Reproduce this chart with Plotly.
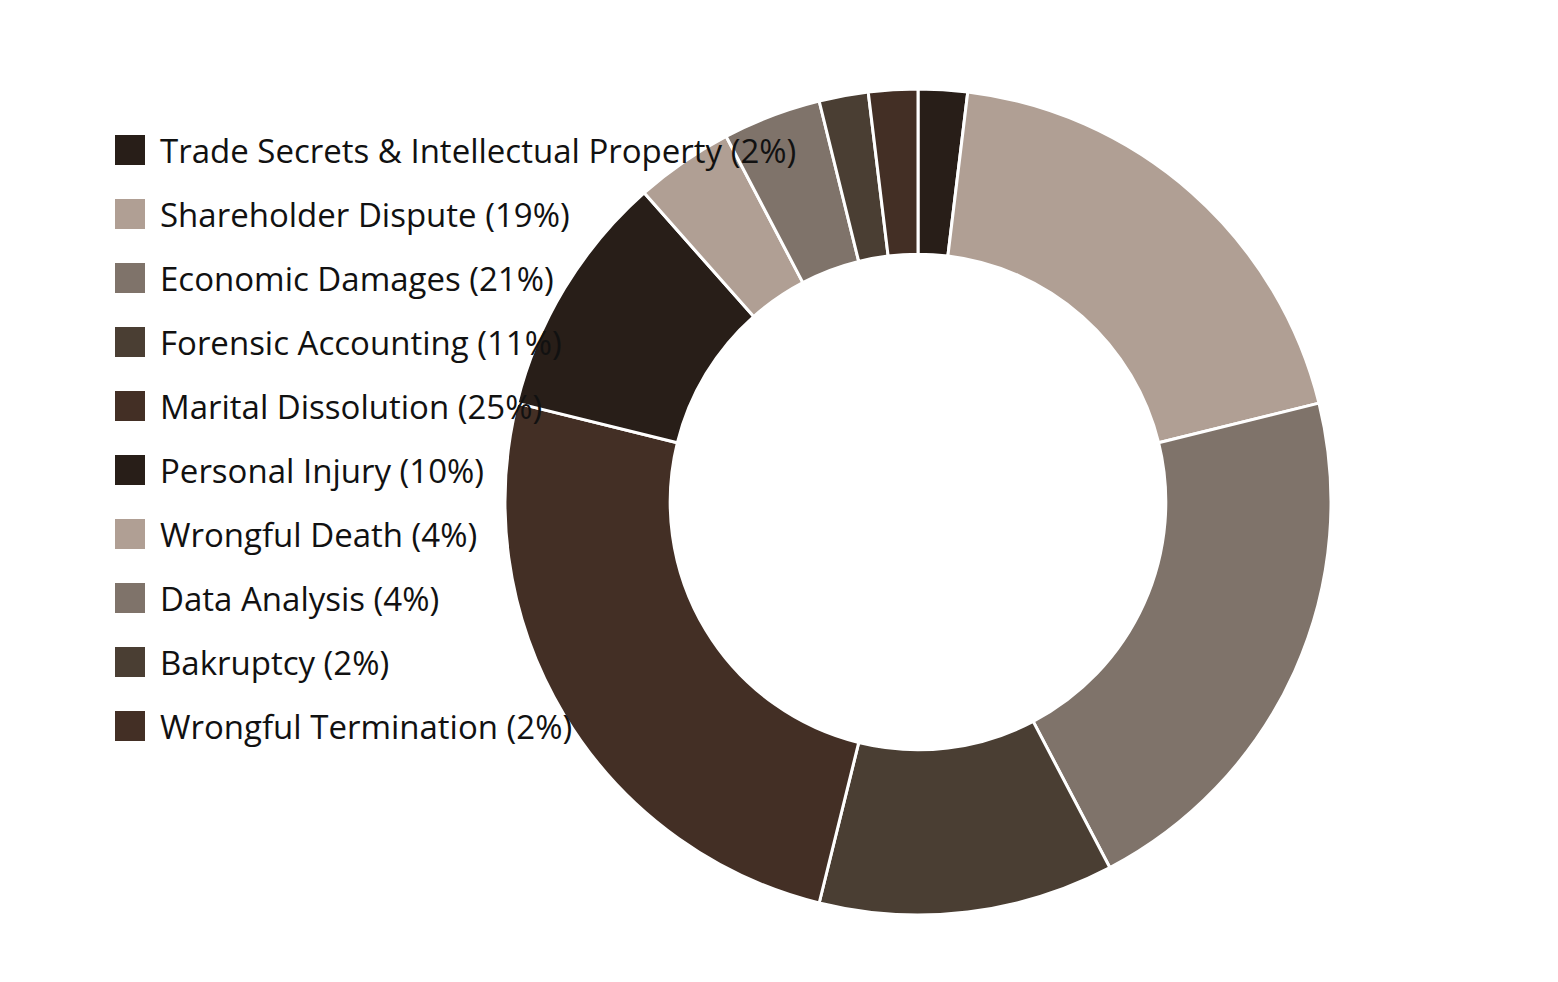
import plotly.graph_objects as go

labels = [
    "Trade Secrets & Intellectual Property",
    "Shareholder Dispute",
    "Economic Damages",
    "Forensic Accounting",
    "Marital Dissolution",
    "Personal Injury",
    "Wrongful Death",
    "Data Analysis",
    "Bakruptcy",
    "Wrongful Termination",
]
# slice sizes and the percentages printed in the legend
counts = [1, 10, 11, 6, 13, 5, 2, 2, 1, 1]
legend_percents = [2, 19, 21, 11, 25, 10, 4, 4, 2, 2]
colors = [
    "#281e18", "#b09f94", "#7f736a", "#4a3e33", "#432f25",
    "#281e18", "#b09f94", "#7f736a", "#4a3e33", "#432f25",
]

W, H = 1558, 982
FONT = "Open Sans"

fig = go.Figure()

fig.add_trace(go.Pie(
    labels=labels,
    values=counts,
    sort=False,
    direction="clockwise",
    rotation=0,
    hole=0.6,
    marker=dict(colors=colors, line=dict(color="#ffffff", width=3)),
    textinfo="none",
    hoverinfo="label+percent",
    showlegend=False,
    domain=dict(x=[(918 - 413) / W, (918 + 413) / W],
                y=[(H - 502 - 413) / H, (H - 502 + 413) / H]),
))

# custom legend: squares as markers on hidden axes (index -> row)
idx = list(range(len(labels)))
fig.add_trace(go.Scatter(
    x=[0] * len(labels),
    y=idx,
    mode="markers",
    marker=dict(symbol="square", size=30, color=colors, line=dict(width=0)),
    hoverinfo="skip",
    showlegend=False,
    xaxis="x",
    yaxis="y",
))

row_px = 64
first_px = 150
first_x = 130
annotations = []
for i, (lab, p) in enumerate(zip(labels, legend_percents)):
    annotations.append(dict(
        x=28, y=i, xref="x", yref="y",
        text=f"{lab} ({p}%)",
        showarrow=False, xanchor="left", yanchor="middle",
        font=dict(family=FONT, size=33, color="#111111"),
    ))

fig.update_layout(
    width=W, height=H,
    margin=dict(l=0, r=0, t=0, b=0),
    paper_bgcolor="white",
    plot_bgcolor="rgba(0,0,0,0)",
    font=dict(family=FONT),
    xaxis=dict(visible=False, range=[-first_x, W - first_x], domain=[0, 1], fixedrange=True),
    yaxis=dict(visible=False, range=[(H - first_px) / row_px, -first_px / row_px],
               domain=[0, 1], fixedrange=True),
    annotations=annotations,
)

fig.write_html("out.html", config={"displayModeBar": False},
               post_script="document.body.style.margin='0';")
